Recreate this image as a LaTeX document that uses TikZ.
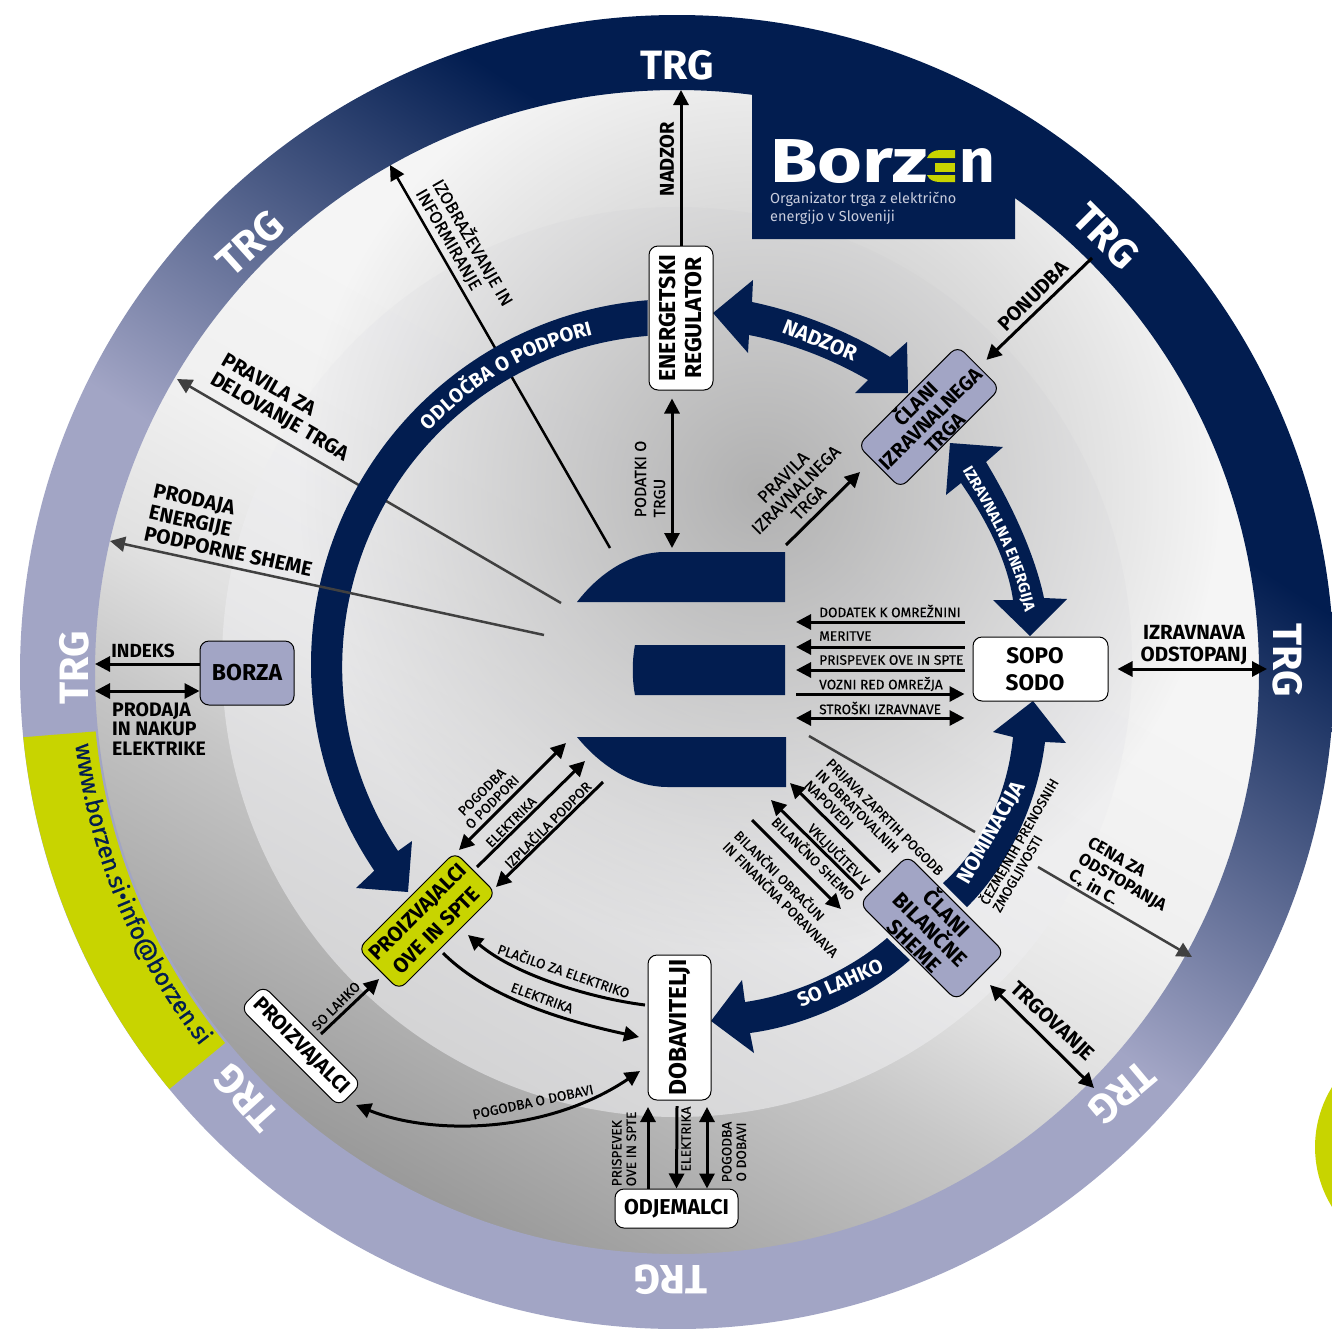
\documentclass[tikz,border=0pt]{standalone}
\usepackage{fontspec}
\setmainfont{Fira Sans}
\newfontfamily\medfont{Fira Sans}[FakeBold=0.4]
\newfontfamily\urlfont{Fira Sans}[FakeBold=0.8]
\newfontfamily\logofont{Fira Sans}[FakeStretch=1.24]
\usetikzlibrary{arrows.meta,decorations.text,fadings}
\definecolor{navy}{HTML}{021D50}
\definecolor{ringlav}{HTML}{A2A5C5}
\definecolor{limeg}{HTML}{C8D400}
\definecolor{bargray}{HTML}{404040}
\definecolor{tagtext}{HTML}{C9CDDD}
\definecolor{disclight}{HTML}{EDEDEF}
\pgfdeclareverticalshading{ringfade}{100bp}{color(0bp)=(ringlav); color(47bp)=(ringlav); color(65.5bp)=(navy); color(100bp)=(navy)}
\pgfdeclareverticalshading{discfade}{100bp}{color(0bp)=(black!40); color(25bp)=(black!40); color(38bp)=(black!22); color(43.5bp)=(black!12); color(50bp)=(black!6); color(58bp)=(black!4); color(100bp)=(black!4)}
\tikzfading[name=spotfade, inner color=transparent!15, outer color=transparent!100]
\tikzset{
  >={Triangle[length=15pt,width=15pt]},
  boxnode/.style={draw=black,line width=1pt,rounded corners=9pt,inner sep=0pt,align=center,font=\bfseries\fontsize{23}{26}\selectfont},
  smalllabel/.style={inner sep=0pt,align=center,text=black,font=\medfont\fontsize{13.7}{14.5}\selectfont},
  midlabel/.style={inner sep=0pt,align=center,font=\bfseries\fontsize{20.5}{22}\selectfont},
  ringlabel/.style={inner sep=0pt,text=white,font=\bfseries\fontsize{41}{41}\selectfont},
  bandlabel/.style={inner sep=0pt,text=white,font=\bfseries\fontsize{21}{21}\selectfont},
  blackline/.style={line width=3pt,black},
  grayline/.style={line width=2.5pt,bargray}
}
\begin{document}
\begin{tikzpicture}[x=1pt,y=-1pt]
  \useasboundingbox (0,0) rectangle (1332,1328);
  % background discs
  \fill[white] (0,0) rectangle (1332,1328);
  \fill[limeg] (1429,1147) circle (114);
  \shade[shading=discfade,shading angle=-29] (677,672) circle (590);
  \fill[disclight,opacity=.6] (677,662) circle (455);
  \fill[black!35,path fading=spotfade] (760,490) circle (460);
  % market ring
  \shade[shading=ringfade,shading angle=-33,even odd rule] (677,672) circle (657) (677,672) circle (582);
  \fill[limeg] (677,672) ++(174.3:657) arc[start angle=174.3,end angle=140.6,radius=657]
    -- (225,1043) arc[start angle=140.6,end angle=174.3,radius=582] -- cycle;
  \path[decorate,decoration={text along path,text align=center,
      text={|\color{navy}\urlfont\fontsize{24}{24}\selectfont|www.borzen.si•info@borzen.si}}]
    (677,672) ++(173.8:606) arc[start angle=173.8,end angle=141.2,radius=606];
  % logo
  \fill[navy] (752,90) -- (950,120) -- (1015,190) -- (1015,239) -- (752,239) -- cycle;
  \node (logoa) at (770,182) [anchor=base west,inner sep=0pt,text=white,font=\logofont\bfseries\fontsize{62}{62}\selectfont] {Borz};
  \node (logob) at (959,182) [anchor=base west,inner sep=0pt,text=white,font=\bfseries\fontsize{62}{62}\selectfont] {n};
  \fill[limeg] (927,158) .. controls (929,153) and (934,150) .. (940,150) -- (955,150) -- (955,158) -- cycle;
  \fill[limeg] (935,163) rectangle (955,172);
  \fill[limeg] (927,175) .. controls (929,180) and (934,182) .. (940,182) -- (955,182) -- (955,175) -- cycle;
  \node (tagline) at (770,208) [anchor=west,inner sep=0pt,align=left,text=tagtext,font=\fontsize{14.5}{18}\selectfont] {Organizator trga z električno\\energijo v Sloveniji};
  % free ends of the connectors
  \coordinate (nadzorEnd) at (681,90);
  \coordinate (podatkiEnd) at (672,548);
  \coordinate (pravilaStart) at (786,545);
  \coordinate (pravilaEnd) at (860,472);
  \coordinate (ponudbaStart) at (1092,258);
  \coordinate (izobStart) at (610,548);
  \coordinate (izobEnd) at (390,165);
  \coordinate (deloStart) at (561,603);
  \coordinate (deloEnd) at (177,379);
  \coordinate (podpStart) at (544,635);
  \coordinate (podpEnd) at (110,541);
  \coordinate (trgLeftA) at (95,664);
  \coordinate (trgLeftB) at (95,691);
  \coordinate (trgRight) at (1267,669);
  \coordinate (cenaStart) at (809,736);
  \coordinate (cenaBreakA) at (975,832);
  \coordinate (cenaBreakB) at (1038,867);
  \coordinate (cenaEnd) at (1192,957);
  % lines that pass under the arcs
  \path [->,grayline] (deloStart) edge (deloEnd);
  \path [->,line width=2.5pt,black] (izobStart) edge (izobEnd);
  \path [grayline] (cenaStart) edge (cenaBreakA);
  \path [->,grayline] (cenaBreakB) edge (cenaEnd);
  % thick arcs
  \fill[navy] (677,665) ++(265.4:366) arc[start angle=265.4,end angle=145.8,radius=366]
    -- (356,888) -- (408,892) -- (412,841) -- (398,851) arc[start angle=146.3,end angle=265.4,radius=332] -- cycle;
  \fill[navy] (713,313) -- (753,280) -- (752,302) .. controls (800,312) and (850,332) .. (890,357) -- (907,342) -- (908,393) -- (855,393) -- (868,380) .. controls (830,358) and (790,343) .. (749,335) -- (748,353) -- cycle;
  \fill[navy] (950,443) -- (1003,447) -- (986,462) .. controls (1012,505) and (1035,555) .. (1044,598) -- (1067,599) -- (1030,636) -- (993,600) -- (1013,600) .. controls (1008,565) and (990,525) .. (961,483) -- (946,495) -- cycle;
  \fill[navy] (1013,737) .. controls (1008,790) and (985,845) .. (943,883) -- (967,907) .. controls (1010,865) and (1038,800) .. (1045,742) -- (1066,743) -- (1033,701) -- (993,732) -- cycle;
  \fill[navy] (887,938) .. controls (850,970) and (795,995) .. (745,1002) -- (742,980) -- (711,1021) -- (754,1053) -- (750,1033) .. controls (810,1025) and (870,995) .. (910,960) -- cycle;
  \path[decorate,decoration={text along path,text align=center,
      text={|\color{white}\bfseries\fontsize{20}{20}\selectfont|ODLOČBA O PODPORI}}]
    (677,665) ++(215:341) arc[start angle=215,end angle=264,radius=341];
  \path[decorate,decoration={text along path,text align=center,
      text={|\color{white}\bfseries\fontsize{15.5}{15.5}\selectfont|IZRAVNALNA ENERGIJA}}]
    (957,462) .. controls (988,512) and (1015,560) .. (1027,622);
  \node (lbNadzor) at (820,340) [bandlabel,rotate=-22] {NADZOR};
  \node (lbNomin) at (992,833) [bandlabel,rotate=60] {NOMINACIJA};
  \node (lbLahko) at (840,983) [bandlabel,rotate=24,font=\bfseries\fontsize{20}{20}\selectfont] {SO LAHKO};
  % grey line over the arc
  \path [->,grayline] (podpStart) edge (podpEnd);
  % the big E
  \fill[navy] (577,602) .. controls (600,572) and (632,552) .. (665,552) -- (785,552) -- (785,602) -- cycle;
  \fill[navy] (635,645) -- (785,645) -- (785,695) -- (635,695) .. controls (632,680) and (632,660) .. (635,645) -- cycle;
  \fill[navy] (577,737) -- (786,737) -- (786,787) -- (668,787) .. controls (632,787) and (600,765) .. (577,737) -- cycle;
  % boxes
  \begin{scope}[every node/.append style={boxnode}]
    \node (regulator) at (681,318) [fill=white,rotate=90,minimum width=144pt,minimum height=64pt] {ENERGETSKI\\REGULATOR};
    \node (clani) at (929,417) [fill=ringlav,rotate=45,minimum width=141pt,minimum height=55pt,font=\bfseries\fontsize{20}{20.5}\selectfont] {ČLANI\\IZRAVNALNEGA\\TRGA};
    \node (sopo) at (1040.5,669) [fill=white,minimum width=135pt,minimum height=64pt,font=\bfseries\fontsize{22.5}{27}\selectfont] {SOPO\hspace*{11pt}\\SODO\hspace*{11pt}};
    \node (borza) at (247,673) [fill=ringlav,minimum width=94pt,minimum height=64pt,font=\bfseries\fontsize{23}{27}\selectfont] {BORZA};
    \node (bilancne) at (932,928) [fill=ringlav,rotate=-45,minimum width=137pt,minimum height=68pt,font=\bfseries\fontsize{21.3}{23}\selectfont] {ČLANI\\BILANČNE\\SHEME};
    \node (proizOve) at (427,921) [fill=limeg,rotate=45,minimum width=137pt,minimum height=58pt,font=\bfseries\fontsize{20.8}{26}\selectfont] {PROIZVAJALCI\\OVE IN SPTE};
    \node (proizv) at (301,1046) [fill=white,rotate=-45,minimum width=139pt,minimum height=32pt,font=\bfseries\fontsize{20.7}{20.7}\selectfont] {PROIZVAJALCI};
    \node (dobav) at (679.5,1027.5) [fill=white,rotate=90,minimum width=145pt,minimum height=63pt,font=\bfseries\fontsize{24.5}{24.5}\selectfont] {DOBAVITELJI};
    \node (odjem) at (676.5,1208.5) [fill=white,minimum width=123pt,minimum height=39pt,font=\bfseries\fontsize{21.5}{21.5}\selectfont] {ODJEMALCI};
  \end{scope}
  % connectors
  \begin{scope}[every path/.append style={blackline}]
    \path [->] (regulator.east) edge (nadzorEnd);
    \path [<->,shorten <=8pt] (regulator.west -| podatkiEnd) edge (podatkiEnd);
    \path [->] (pravilaStart) edge (pravilaEnd);
    \path [->,shorten >=10pt] (ponudbaStart) edge (clani.east);
    \path [->] (borza.west |- trgLeftA) edge (trgLeftA);
    \path [<->] (borza.west |- trgLeftB) edge (trgLeftB);
    \path [<->,shorten <=9pt] (sopo.east) edge (trgRight);
  \end{scope}
  % SOPO connectors
  \coordinate (eRight) at (796,0);
  \begin{scope}[every path/.append style={blackline}]
    \path [->] (sopo.west |- 0,622) ++(-8,0) coordinate (sopoA) (sopoA) edge (eRight |- sopoA);
    \path [->] (sopo.west |- 0,647) ++(-8,0) coordinate (sopoB) (sopoB) edge (eRight |- sopoB);
    \path [->] (sopo.west |- 0,670) ++(-8,0) coordinate (sopoC) (sopoC) edge (eRight |- sopoC);
    \path [<-] (sopo.west |- 0,694) ++(-8,0) coordinate (sopoD) (sopoD) edge (eRight |- sopoD);
    \path [<->] (sopo.west |- 0,718) ++(-8,0) coordinate (sopoE) (sopoE) edge (eRight |- sopoE);
  \end{scope}
  % member connectors
  \coordinate (bilA) at (880,872);
  \coordinate (bilAe) at (790,783);
  \coordinate (bilB) at (862,890);
  \coordinate (bilBe) at (771,800);
  \coordinate (bilC) at (752,820);
  \coordinate (bilCe) at (841,909);
  \coordinate (trgovA) at (990,985);
  \coordinate (trgovB) at (1094,1088);
  \coordinate (ovePo) at (566,743);
  \coordinate (ovePi) at (459,850);
  \coordinate (oveEl) at (477,867);
  \coordinate (oveEe) at (585,761);
  \coordinate (oveIz) at (603,782);
  \coordinate (oveIe) at (496,887);
  \coordinate (placA) at (645,1005);
  \coordinate (placB) at (468,935);
  \coordinate (elekA) at (443,953);
  \coordinate (elekB) at (639,1037);
  \coordinate (lahkoA) at (321,1034);
  \coordinate (lahkoB) at (379,979);
  \coordinate (dobA) at (356,1105);
  \coordinate (dobB) at (640,1071);
  \begin{scope}[every path/.append style={blackline}]
    \path [->] (bilA) edge (bilAe);
    \path [->] (bilB) edge (bilBe);
    \path [->] (bilC) edge (bilCe);
    \path [<->] (trgovA) edge (trgovB);
    \path [<->] (ovePo) edge (ovePi);
    \path [->] (oveEl) edge (oveEe);
    \path [->] (oveIz) edge (oveIe);
    \path [->] (lahkoA) edge (lahkoB);
    \draw [->] (placA) .. controls (590,998) and (515,975) .. (placB);
    \draw [->] (elekA) .. controls (490,1000) and (570,1022) .. (elekB);
    \draw [<->] (dobA) .. controls (430,1135) and (545,1135) .. (dobB);
    \path [->] (odjem.north -| 648,0) edge (648,1107);
    \path [->] (677,1106) edge (odjem.north);
    \path [<->,shorten <=7pt] (707,1100) edge (odjem.north -| 707,0);
  \end{scope}
  % ring labels
  \node (trgTop) at (677,65) [ringlabel] {TRG};
  \node (trgUR) at (1106,236) [ringlabel,rotate=-45] {TRG};
  \node (trgR) at (1288,660) [ringlabel,rotate=-90] {TRG};
  \node (trgLR) at (1122,1093) [ringlabel,rotate=-140] {TRG};
  \node (trgB) at (671,1280) [ringlabel,rotate=180] {TRG};
  \node (trgLL) at (246,1098) [ringlabel,rotate=132] {TRG};
  \node (trgL) at (74,668) [ringlabel,rotate=90] {TRG};
  \node (trgUL) at (250,243) [ringlabel,rotate=42] {TRG};
  % labels
  \begin{scope}[every node/.append style={midlabel}]
    \node (tNadzor) at (667,159) [rotate=90,font=\bfseries\fontsize{20}{20}\selectfont] {NADZOR};
    \node (tPonudba) at (1033,296) [rotate=45,font=\bfseries\fontsize{20}{20}\selectfont] {PONUDBA};
    \node (tTrgov) at (1052,1022) [rotate=-43] {TRGOVANJE};
    \node (tIndeks) at (143,651) [font=\bfseries\fontsize{19}{19}\selectfont] {INDEKS};
    \node (tProdaja) at (112,729) [anchor=west,align=left,font=\bfseries\fontsize{19.5}{19.5}\selectfont] {PRODAJA\\IN NAKUP\\ELEKTRIKE};
    \node (tIzrav) at (1194,645) [] {IZRAVNAVA\\ODSTOPANJ};
    \node (tDelo) at (285,408) [rotate=-30,align=left] {PRAVILA ZA\\DELOVANJE TRGA};
    \node (tPodp) at (233,530) [rotate=-12.2,align=left] {PRODAJA\\ENERGIJE\\PODPORNE SHEME};
    \node (tCena) at (1122,883) [rotate=-30,align=left,font=\bfseries\fontsize{17}{19}\selectfont] {CENA ZA\\ODSTOPANJA\\C\textsubscript{+} in C\textsubscript{-}};
  \end{scope}
  \begin{scope}[every node/.append style={smalllabel}]
    \node (tIzob) at (465,247) [rotate=-60,align=left,font=\medfont\fontsize{17.4}{19}\selectfont] {IZOBRAŽEVANJE IN\\INFORMIRANJE};
    \node (tPravila) at (796,490) [rotate=45,font=\medfont\fontsize{17.5}{18}\selectfont] {PRAVILA\\IZRAVNALNEGA\\TRGA};
    \node (tPodatki) at (650,479) [rotate=90,align=left,font=\medfont\fontsize{16}{19}\selectfont] {PODATKI O\\TRGU};
    \node (tDodatek) at (819,611) [anchor=west] {DODATEK K OMREŽNINI};
    \node (tMeritve) at (819,636) [anchor=west] {MERITVE};
    \node (tPrisp) at (819,660) [anchor=west] {PRISPEVEK OVE IN SPTE};
    \node (tVozni) at (819,684) [anchor=west] {VOZNI RED OMREŽJA};
    \node (tStroski) at (819,708) [anchor=west] {STROŠKI IZRAVNAVE};
    \node (tPrijava) at (874,828) [rotate=-45,align=left,font=\medfont\fontsize{13.7}{15.5}\selectfont] {PRIJAVA ZAPRTIH POGODB\\IN OBRATOVALNIH\\NAPOVEDI};
    \node (tVklj) at (821.5,850.5) [rotate=-45,align=right,font=\medfont\fontsize{13.7}{21}\selectfont] {VKLJUČITEV V\\BILANČNO SHEMO};
    \node (tObrac) at (787,893) [rotate=-45,align=left,font=\medfont\fontsize{13.7}{16}\selectfont] {BILANČNI OBRAČUN\\IN FINANČNA PORAVNAVA};
    \node (tCezm) at (1025,845) [rotate=60,align=left] {ČEZMEJNIH PRENOSNIH\\ZMOGLJIVOSTI};
    \node (tPogPod) at (487,797) [rotate=45] {POGODBA\\O PODPORI};
    \node (tElek) at (511,822) [rotate=45] {ELEKTRIKA};
    \node (tIzpl) at (547,824) [rotate=45] {IZPLAČILA PODPOR};
    \node (tPlac) at (564,970) [rotate=-19] {PLAČILO ZA ELEKTRIKO};
    \node (tElekB) at (542,998) [rotate=-20] {ELEKTRIKA};
    \node (tLahko) at (336,1006) [rotate=45] {SO LAHKO};
    \node (tPogDob) at (533,1102) [rotate=12] {POGODBA O DOBAVI};
    \node (tPrisB) at (624,1149) [rotate=90,align=left] {PRISPEVEK\\OVE IN SPTE};
    \node (tElekC) at (686,1139) [rotate=90] {ELEKTRIKA};
    \node (tPogB) at (734,1152) [rotate=90] {POGODBA\\O DOBAVI};
  \end{scope}
\end{tikzpicture}
\end{document}
